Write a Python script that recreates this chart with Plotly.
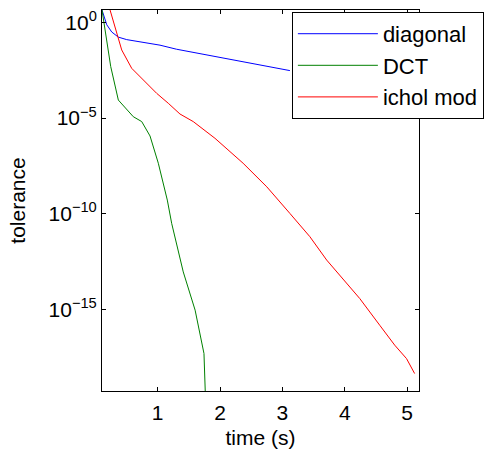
import plotly.graph_objects as go

# time (s)
diag_t = [0.107, 0.183, 0.263, 0.369, 0.503, 1.037, 1.30, 1.95, 2.48, 3.12]
diag_tol = [4.47, 0.759, 0.316, 0.170, 0.126, 0.0646, 0.0398, 0.0162, 0.00794, 0.00302]

dct_t = [0.107, 0.247, 0.369, 0.476, 0.609, 0.744, 0.877, 1.01, 1.154, 1.224, 1.41, 1.60, 1.73, 1.742, 1.78]
dct_tol = [4.47, 4.9e-3, 8.7e-5, 3.6e-5, 1.17e-5, 6.5e-6, 1.15e-6, 4.3e-8, 5.1e-10, 3.1e-11,
           8.9e-14, 8.9e-16, 8.7e-18, 4.8e-18, 1e-21]

ichol_t = [0.236, 0.423, 0.583, 0.769, 0.984, 1.17, 1.357, 1.57, 1.678, 1.918, 2.37, 2.75, 3.12,
           3.44, 3.71, 4.24, 4.56, 4.80, 4.99, 5.12]
ichol_tol = [4.47, 0.0363, 3.98e-3, 9.8e-4, 1.95e-4, 5.9e-5, 1.62e-5, 6.5e-6, 3.5e-6, 8.7e-7, 4.3e-8,
             2.5e-9, 1.02e-10, 6.2e-12, 3.7e-13, 3.6e-15, 1.45e-16, 1.32e-17, 2.6e-18, 4.3e-19]

series_names = ["diagonal", "DCT", "ichol mod"]
series_colors = ["#0000ff", "#008000", "#ff0000"]

x_ticks = [1, 2, 3, 4, 5]
y_tickvals = [1, 1e-5, 1e-10, 1e-15]
y_ticktext = ["10<sup>0</sup>", "10<sup>\u22125</sup>", "10<sup>\u221210</sup>", "10<sup>\u221215</sup>"]

FONT = "Liberation Sans, Arial, Helvetica, sans-serif"

fig = go.Figure()
for name, col, xs, ys in zip(series_names, series_colors,
                             [diag_t, dct_t, ichol_t], [diag_tol, dct_tol, ichol_tol]):
    fig.add_trace(go.Scatter(x=xs, y=ys, mode="lines", name=name,
                             line=dict(color=col, width=1)))

fig.update_layout(
    width=487, height=452,
    margin=dict(l=102, r=68, t=10, b=61, autoexpand=False),
    paper_bgcolor="white", plot_bgcolor="white",
    font=dict(family=FONT, size=20, color="black"),
    showlegend=True,
    legend=dict(x=0.599, y=0.995, xanchor="left", yanchor="top",
                bgcolor="white", bordercolor="black", borderwidth=1,
                font=dict(family=FONT, size=22, color="black"),
                itemwidth=80, tracegroupgap=0),
)
fig.update_xaxes(range=[0.107, 5.19], tickvals=x_ticks, ticks="inside", ticklen=4,
                 tickcolor="black", showline=True, linecolor="black", linewidth=1,
                 mirror="ticks", showgrid=False, zeroline=False, automargin=False,
                 ticklabelstandoff=3,
                 title=dict(text="time (s)", standoff=7, font=dict(size=21)),
                 tickfont=dict(size=21))
fig.update_yaxes(type="log", range=[-19.28, 0.65], tickvals=y_tickvals, ticktext=y_ticktext,
                 ticks="inside", ticklen=4, tickcolor="black", showline=True,
                 linecolor="black", linewidth=1, mirror="ticks", showgrid=False,
                 zeroline=False, automargin=False,
                 title=dict(text="tolerance", standoff=17, font=dict(size=21)),
                 tickfont=dict(size=21))

fig.write_html("out.html", config={"displayModeBar": False},
               post_script="document.body.style.margin='0';document.body.style.overflow='hidden';")
